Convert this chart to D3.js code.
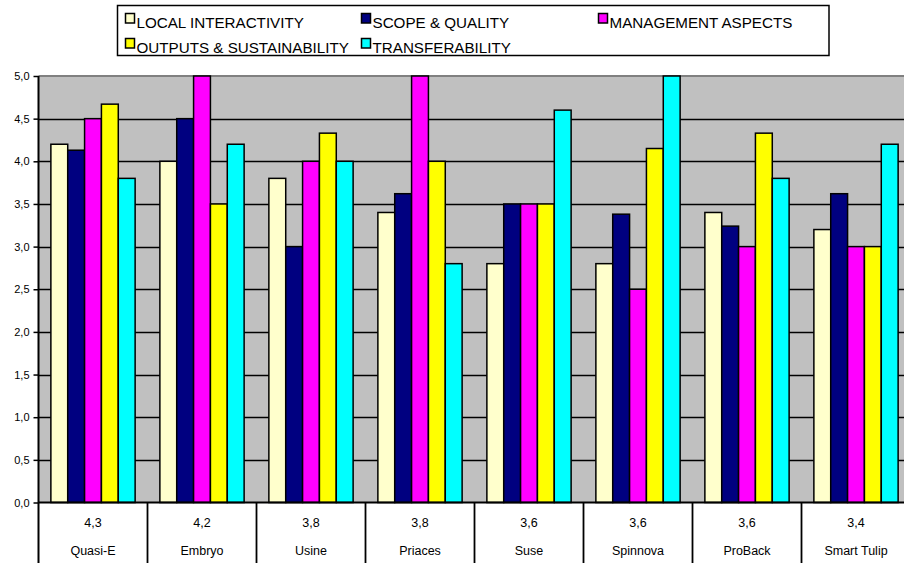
<!DOCTYPE html>
<html>
<head>
<meta charset="utf-8">
<script src="https://cdn.jsdelivr.net/npm/d3@7"></script>
<style>
  html, body { margin: 0; padding: 0; background: #fff; }
  svg { display: block; font-family: Arial, "Liberation Sans", sans-serif; }
</style>
</head>
<body>
<svg id="chart" width="904" height="563"></svg>
<script>
// Projects, with their overall score shown under each group
const projects = ["Quasi-E", "Embryo", "Usine", "Priaces", "Suse", "Spinnova", "ProBack", "Smart Tulip"];
const overall = ["4,3", "4,2", "3,8", "3,8", "3,6", "3,6", "3,6", "3,4"];

// Criteria (series)
const criteria = ["LOCAL INTERACTIVITY", "SCOPE & QUALITY", "MANAGEMENT ASPECTS", "OUTPUTS & SUSTAINABILITY", "TRANSFERABILITY"];
const criteriaColors = ["#FFFFCC", "#000080", "#FF00FF", "#FFFF00", "#00FFFF"];

// Scores per criterion, one value per project
const localInteractivity = [4.2, 4.0, 3.8, 3.4, 2.8, 2.8, 3.4, 3.2];
const scopeQuality       = [4.13, 4.5, 3.0, 3.62, 3.5, 3.38, 3.24, 3.62];
const managementAspects  = [4.5, 5.0, 4.0, 5.0, 3.5, 2.5, 3.0, 3.0];
const outputsSustain     = [4.67, 3.5, 4.33, 4.0, 3.5, 4.15, 4.33, 3.0];
const transferability    = [3.8, 4.2, 4.0, 2.8, 4.6, 5.0, 3.8, 4.2];
const seriesValues = [localInteractivity, scopeQuality, managementAspects, outputsSustain, transferability];

const yTicks = [0, 0.5, 1, 1.5, 2, 2.5, 3, 3.5, 4, 4.5, 5];

const svg = d3.select("#chart");
const W = 904, H = 563;
const plot = { left: 38.5, top: 76, bottom: 502.5 };
const step = 109;

const x0 = d3.scaleBand()
  .domain(projects)
  .range([plot.left, plot.left + step * projects.length])
  .paddingInner(0.227)
  .paddingOuter(0.1135);
const x1 = d3.scaleBand().domain(criteria).range([0, x0.bandwidth()]);
const y = d3.scaleLinear().domain([0, 5]).range([plot.bottom, plot.top]);
const fmt = v => d3.format(".1f")(v).replace(".", ",");

// Plot background
svg.append("rect")
  .attr("x", plot.left).attr("y", plot.top)
  .attr("width", W - plot.left).attr("height", plot.bottom - plot.top)
  .attr("fill", "#C0C0C0");

// Horizontal gridlines
svg.append("g").selectAll("line")
  .data(yTicks.filter(t => t > 0 && t < 5))
  .join("line")
  .attr("x1", plot.left).attr("x2", W)
  .attr("y1", d => Math.round(y(d)) + 0.5).attr("y2", d => Math.round(y(d)) + 0.5)
  .attr("stroke", "#000").attr("stroke-width", 1.6);

svg.append("line")
  .attr("x1", plot.left).attr("x2", W)
  .attr("y1", y(5)).attr("y2", y(5))
  .attr("stroke", "#808080").attr("stroke-width", 2);

// Bars
const groups = svg.append("g").selectAll("g")
  .data(projects)
  .join("g")
  .attr("transform", d => `translate(${x0(d)},0)`);

groups.selectAll("rect")
  .data((p, i) => criteria.map((c, k) => ({ c, k, v: seriesValues[k][i] })))
  .join("rect")
  .attr("x", d => x1(d.c))
  .attr("width", x1.bandwidth())
  .attr("y", d => y(d.v))
  .attr("height", d => y(0) - y(d.v))
  .attr("fill", d => criteriaColors[d.k])
  .attr("stroke", "#000")
  .attr("stroke-width", 1.5);

// Y axis
const yAxis = d3.axisLeft(y).tickValues(yTicks).tickFormat(fmt).tickSize(5).tickPadding(4);
const gy = svg.append("g").attr("transform", `translate(${plot.left},0)`).call(yAxis);
gy.select(".domain").remove();
gy.selectAll(".tick line").attr("stroke", "#000").attr("stroke-width", 1.5);
gy.selectAll(".tick text").attr("font-size", 11).attr("fill", "#000")
  .attr("font-family", "Arial, 'Liberation Sans', sans-serif");
svg.append("line")
  .attr("x1", plot.left).attr("x2", plot.left)
  .attr("y1", plot.top).attr("y2", H)
  .attr("stroke", "#000").attr("stroke-width", 2);

// Category axis as a two-row table
svg.append("line")
  .attr("x1", plot.left).attr("x2", W)
  .attr("y1", plot.bottom).attr("y2", plot.bottom)
  .attr("stroke", "#000").attr("stroke-width", 2);

const boundaries = projects.slice(1).map(p => x0(p) - x0.step() * x0.paddingInner() / 2);
svg.append("g").selectAll("line")
  .data(boundaries)
  .join("line")
  .attr("x1", d => d).attr("x2", d => d)
  .attr("y1", plot.bottom).attr("y2", H)
  .attr("stroke", "#000").attr("stroke-width", 1.8);

const cat = svg.append("g").attr("font-size", 12.5).attr("text-anchor", "middle").attr("fill", "#000");
cat.selectAll("text.score")
  .data(projects)
  .join("text")
  .attr("class", "score")
  .attr("x", d => x0(d) + x0.bandwidth() / 2)
  .attr("y", 527)
  .text((d, i) => overall[i]);
cat.selectAll("text.name")
  .data(projects)
  .join("text")
  .attr("class", "name")
  .attr("x", d => x0(d) + x0.bandwidth() / 2)
  .attr("y", 555)
  .text(d => d);

// Legend
const legend = svg.append("g");
legend.append("rect")
  .attr("x", 117.5).attr("y", 5.5).attr("width", 711.5).attr("height", 50)
  .attr("fill", "#fff").attr("stroke", "#000").attr("stroke-width", 1.5);
const legendPos = [[125, 13], [361, 13], [598, 13], [125, 38], [361, 38]];
const li = legend.selectAll("g.item")
  .data(criteria)
  .join("g")
  .attr("class", "item")
  .attr("transform", (d, i) => `translate(${legendPos[i][0]},${legendPos[i][1]})`);
li.append("rect")
  .attr("x", 0.5).attr("y", 0.5).attr("width", 9).attr("height", 9.5)
  .attr("fill", (d, i) => criteriaColors[i])
  .attr("stroke", "#000").attr("stroke-width", 1.5);
li.append("text")
  .attr("x", 11.5).attr("y", 15)
  .attr("font-size", 15.2)
  .attr("fill", "#000")
  .text(d => d);
</script>
</body>
</html>
